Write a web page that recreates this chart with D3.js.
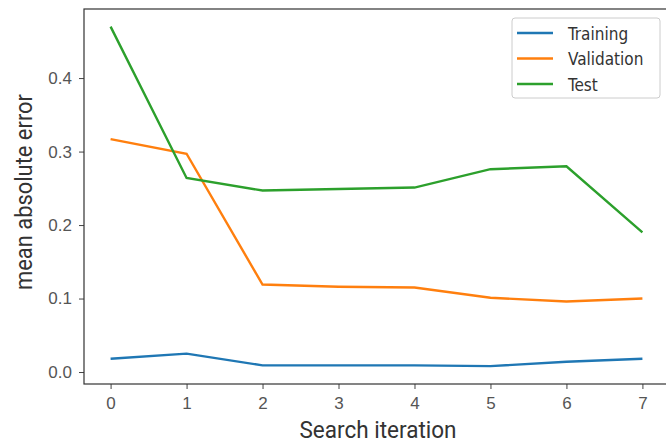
<!DOCTYPE html>
<html>
<head>
<meta charset="utf-8">
<script src="https://cdn.jsdelivr.net/npm/d3@7"></script>
<style>
  body { margin: 0; background: #fff; }
  svg { font-family: "DejaVu Sans Condensed", "DejaVu Sans", sans-serif; }
</style>
</head>
<body>
<svg id="chart" width="666" height="445"></svg>
<script>
var iterations = [0, 1, 2, 3, 4, 5, 6, 7];
var training = [0.018, 0.025, 0.009, 0.009, 0.009, 0.008, 0.014, 0.018];
var validation = [0.317, 0.297, 0.119, 0.116, 0.115, 0.101, 0.096, 0.100];
var test = [0.470, 0.264, 0.247, 0.249, 0.251, 0.276, 0.280, 0.190];
var yTicks = [0.0, 0.1, 0.2, 0.3, 0.4];
var seriesNames = ["Training", "Validation", "Test"];
var seriesColors = ["#1f77b4", "#ff7f0e", "#2ca02c"];

var svg = d3.select("#chart");
var plotLeft = 84, plotRight = 669, plotTop = 9, plotBottom = 384;

var x = d3.scaleLinear().domain([-0.35, 7.35]).range([plotLeft, plotRight]);
var y = d3.scaleLinear().domain([-0.0163, 0.494]).range([plotBottom, plotTop]);

//axes
var xAxis = svg.append("g").attr("transform", "translate(0," + plotBottom + ")")
    .call(d3.axisBottom(x).tickValues(iterations).tickFormat(d3.format("d")).tickSize(5).tickPadding(8));
var yAxis = svg.append("g").attr("transform", "translate(" + plotLeft + ",0)")
    .call(d3.axisLeft(y).tickValues(yTicks).tickFormat(d3.format(".1f")).tickSize(5).tickPadding(7));

[xAxis, yAxis].forEach(function (a) {
    a.select(".domain").remove();
    a.selectAll(".tick line").attr("stroke", "#444").attr("stroke-width", 1);
    a.selectAll(".tick text").attr("fill", "#555").style("font-size", "17px");
});

//frame
svg.append("rect").attr("x", plotLeft).attr("y", plotTop).attr("width", plotRight - plotLeft).attr("height", plotBottom - plotTop)
    .attr("fill", "none").attr("stroke", "#333").attr("stroke-width", 1.2);

//lines
var line = d3.line().x(function (d, i) { return x(iterations[i]); }).y(function (d) { return y(d); });
[training, validation, test].forEach(function (s, i) {
    svg.append("path").datum(s).attr("d", line)
        .attr("fill", "none").attr("stroke", seriesColors[i]).attr("stroke-width", 2.4);
});

//axis labels (condensed look)
svg.append("text").attr("x", 378).attr("y", 438).attr("text-anchor", "middle")
    .style("font-family", "Roboto, sans-serif").style("font-size", "23px").attr("fill", "#333")
    .attr("textLength", 157).attr("lengthAdjust", "spacingAndGlyphs").text("Search iteration");
svg.append("text").attr("transform", "translate(32,192) rotate(-90)")
    .attr("text-anchor", "middle").style("font-family", "Roboto, sans-serif").style("font-size", "23px").attr("fill", "#333")
    .attr("textLength", 196).attr("lengthAdjust", "spacingAndGlyphs").text("mean absolute error");

//legend
var legend = svg.append("g");
legend.append("rect").attr("x", 512).attr("y", 18).attr("width", 148).attr("height", 80).attr("rx", 3)
    .attr("fill", "#fff").attr("stroke", "#ccc");
seriesNames.forEach(function (name, i) {
    var ly = 33 + i * 25.5;
    legend.append("line").attr("x1", 517).attr("x2", 553).attr("y1", ly).attr("y2", ly)
        .attr("stroke", seriesColors[i]).attr("stroke-width", 2.4);
    legend.append("text").attr("x", 568).attr("y", ly + 6.5).style("font-size", "17px").attr("fill", "#333").text(name);
});
</script>
</body>
</html>
